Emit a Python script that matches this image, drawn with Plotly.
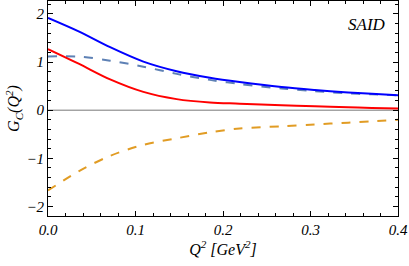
import plotly.graph_objects as go

q2 = [0.0, 0.035, 0.071, 0.109, 0.147, 0.185, 0.219, 0.267, 0.305, 0.343, 0.37, 0.4]
g_blue = [1.92, 1.64, 1.31, 1.01, 0.81, 0.675, 0.585, 0.48, 0.42, 0.37, 0.34, 0.31]
g_red = [1.27, 0.966, 0.64, 0.38, 0.23, 0.16, 0.135, 0.10, 0.08, 0.06, 0.047, 0.035]
g_dash_blue = [1.115, 1.115, 1.03, 0.905, 0.755, 0.63, 0.545, 0.45, 0.395, 0.35, 0.33, 0.31]
g_orange = [-1.67, -1.27, -0.95, -0.72, -0.585, -0.46, -0.38, -0.335, -0.295, -0.26, -0.23, -0.20]

x_ticks = [0.0, 0.1, 0.2, 0.3, 0.4]
x_tick_labels = ["0.0", "0.1", "0.2", "0.3", "0.4"]
y_ticks = [-2, -1, 0, 1, 2]
y_tick_labels = ["\u22122", "\u22121", "0", "1", "2"]

fig = go.Figure()
sm = 0.9
fig.add_trace(go.Scatter(x=q2, y=g_dash_blue, mode="lines", line=dict(color="#5E81B5", width=2, dash="dash", shape="spline", smoothing=sm)))
fig.add_trace(go.Scatter(x=q2, y=g_orange, mode="lines", line=dict(color="#E19C24", width=2, dash="dash", shape="spline", smoothing=sm)))
fig.add_trace(go.Scatter(x=q2, y=g_blue, mode="lines", line=dict(color="#0000FF", width=2, shape="spline", smoothing=sm)))
fig.add_trace(go.Scatter(x=q2, y=g_red, mode="lines", line=dict(color="#FF0000", width=2, shape="spline", smoothing=sm)))

fnt = dict(family="Liberation Serif", size=15, color="black", style="italic")
axis_common = dict(
    showline=True, linecolor="black", linewidth=1, mirror="ticks",
    ticks="inside", ticklen=5, tickcolor="black", showgrid=False, zeroline=False,
    tickfont=fnt,
)
fig.update_xaxes(range=[0, 0.4], tickvals=x_ticks, ticktext=x_tick_labels,
                 minor=dict(dtick=0.02, ticks="inside", ticklen=3, tickcolor="black", showgrid=False),
                 title=dict(text="<i>Q<sup>2</sup> [GeV<sup>2</sup>]</i>", font=dict(family="Liberation Serif", size=16, color="black"), standoff=4),
                 **axis_common)
fig.update_yaxes(range=[-2.2, 2.27], tickvals=y_ticks, ticktext=y_tick_labels,
                 minor=dict(dtick=0.2, ticks="inside", ticklen=3, tickcolor="black", showgrid=False),
                 title=dict(text="<i>G<sub>C</sub>(Q<sup>2</sup>)</i>", font=dict(family="Liberation Serif", size=16, color="black"), standoff=2),
                 **axis_common)
fig.add_shape(type="line", x0=0, x1=0.4, y0=0, y1=0, xref="x", yref="y", line=dict(color="#777777", width=1), layer="below")
fig.add_annotation(x=0.388, y=1.78, xref="x", yref="y", text="SAID", showarrow=False, xanchor="right",
                   font=dict(family="Liberation Serif", size=17, color="black", style="italic"))
fig.update_layout(width=409, height=266, margin=dict(l=48, r=11, t=1, b=50, autoexpand=False),
                  plot_bgcolor="white", paper_bgcolor="white", showlegend=False)
fig.write_html("out.html", config={"displayModeBar": False},
               post_script="document.body.style.margin='0';document.body.style.overflow='hidden';")
